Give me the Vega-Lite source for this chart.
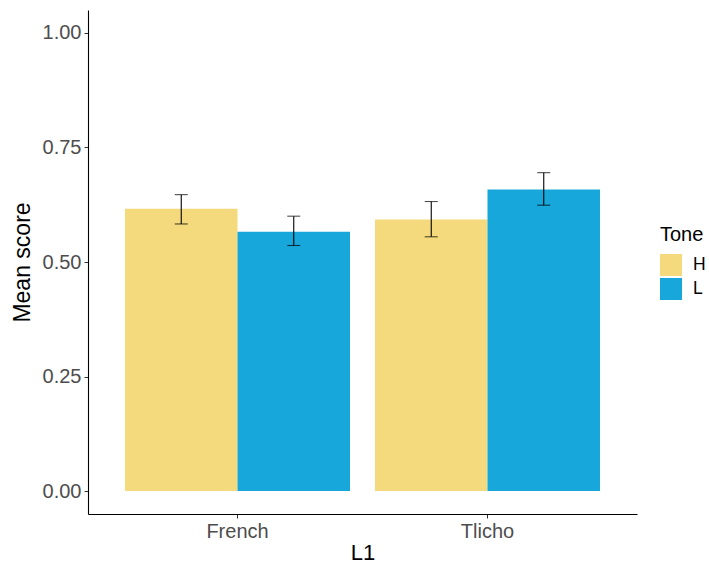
{
  "$schema": "https://vega.github.io/schema/vega-lite/v6.json",
  "width": 549,
  "height": 504,
  "autosize": {"type": "none"},
  "padding": {"left": 88, "top": 10, "right": 72, "bottom": 51},
  "background": "white",
  "config": {
    "font": "Liberation Sans",
    "view": {"stroke": null},
    "axis": {
      "grid": false,
      "domainColor": "black",
      "domainWidth": 1.1,
      "tickColor": "#333333",
      "tickSize": 4,
      "labelColor": "#4D4D4D",
      "labelFontSize": 20,
      "titleColor": "black",
      "titleFontSize": 23,
      "titleFontWeight": "normal"
    }
  },
  "data": {
    "values": [
      {"L1": "French", "Tone": "H", "mean": 0.616, "lo": 0.583, "hi": 0.647},
      {"L1": "French", "Tone": "L", "mean": 0.566, "lo": 0.536, "hi": 0.600},
      {"L1": "Tlicho", "Tone": "H", "mean": 0.593, "lo": 0.555, "hi": 0.632},
      {"L1": "Tlicho", "Tone": "L", "mean": 0.658, "lo": 0.624, "hi": 0.695}
    ]
  },
  "encoding": {
    "x": {
      "field": "L1",
      "type": "nominal",
      "scale": {"paddingInner": 0.1, "paddingOuter": 0.148},
      "axis": {"labelAngle": 0, "title": "L1", "labelPadding": 3, "titlePadding": 1, "titleFontSize": 22}
    },
    "xOffset": {"field": "Tone", "type": "nominal", "scale": {"paddingInner": 0, "paddingOuter": 0}}
  },
  "layer": [
    {
      "mark": {"type": "bar", "width": {"band": 1}},
      "encoding": {
        "y": {
          "field": "mean",
          "type": "quantitative",
          "scale": {"domain": [-0.05, 1.05], "nice": false, "zero": false},
          "axis": {"values": [0, 0.25, 0.5, 0.75, 1], "format": ".2f", "title": "Mean score", "labelPadding": 3, "titlePadding": 8}
        },
        "y2": {"datum": 0},
        "color": {
          "field": "Tone",
          "type": "nominal",
          "scale": {"domain": ["H", "L"], "range": ["#F4DA7D", "#18A7DB"]},
          "legend": {
            "title": "Tone",
            "orient": "none",
            "legendX": 572,
            "legendY": 215,
            "titleFontSize": 20,
            "titleFontWeight": "normal",
            "titleColor": "black",
            "titlePadding": 9,
            "labelFontSize": 17.5,
            "labelColor": "black",
            "symbolType": "square",
            "symbolSize": 484,
            "symbolStrokeWidth": 0,
            "symbolOpacity": 1,
            "labelOffset": 11,
            "rowPadding": 2
          }
        }
      }
    },
    {
      "mark": {"type": "rule", "color": "black", "strokeWidth": 1.1},
      "encoding": {
        "y": {"field": "lo", "type": "quantitative"},
        "y2": {"field": "hi"}
      }
    },
    {
      "mark": {"type": "tick", "color": "black", "thickness": 1.1, "size": 13},
      "encoding": {"y": {"field": "lo", "type": "quantitative"}}
    },
    {
      "mark": {"type": "tick", "color": "black", "thickness": 1.1, "size": 13},
      "encoding": {"y": {"field": "hi", "type": "quantitative"}}
    }
  ]
}
